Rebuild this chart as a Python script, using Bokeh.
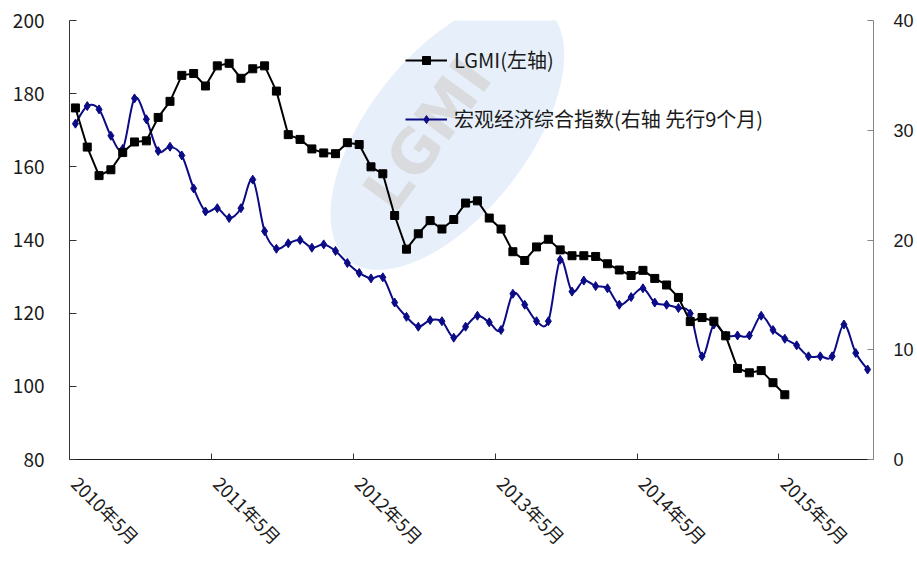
import math
from bokeh.plotting import figure
from bokeh.models import (Range1d, LinearAxis, FixedTicker, Legend, LegendItem,
                          ColumnDataSource)
from bokeh.core.properties import value
from bokeh.embed import file_html
from bokeh.resources import INLINE

# Monthly series starting 2010-05 (index 0) through 2015-12 (index 67)
n_months = 68
label_years = [2010, 2011, 2012, 2013, 2014, 2015]

# LGMI, left axis (2010-05 .. 2015-05)
lgmi = [176.1, 165.4, 157.6, 159.2, 163.9, 166.8, 167.1, 173.5, 177.9, 185.0,
        185.5, 182.1, 187.6, 188.3, 184.2, 186.8, 187.6, 180.7, 168.8, 167.5,
        164.9, 163.8, 163.6, 166.6, 166.1, 160.0, 158.1, 146.7, 137.5, 141.7,
        145.3, 143.0, 145.6, 150.1, 150.7, 146.0, 143.0, 136.8, 134.4, 138.1,
        140.2, 137.3, 135.7, 135.7, 135.5, 133.5, 131.8, 130.3, 131.7, 129.5,
        127.7, 124.3, 117.7, 118.8, 117.8, 113.8, 104.9, 103.7, 104.3, 101.0,
        97.7]

# Composite macro index, right axis, shifted 9 months ahead (2010-05 .. 2015-12)
macro = [30.6, 32.2, 31.9, 29.5, 28.3, 32.9, 31.0, 28.1, 28.5, 27.7,
         24.7, 22.6, 22.9, 22.0, 22.9, 25.5, 20.8, 19.2, 19.7, 20.0,
         19.3, 19.6, 19.0, 17.9, 17.0, 16.5, 16.6, 14.3, 13.0, 12.1,
         12.7, 12.6, 11.1, 12.1, 13.1, 12.5, 11.8, 15.1, 14.1, 12.6,
         12.6, 18.2, 15.3, 16.3, 15.8, 15.6, 14.1, 14.8, 15.6, 14.3,
         14.1, 13.8, 13.3, 9.4, 12.3, 11.3, 11.3, 11.3, 13.1, 11.8,
         11.0, 10.4, 9.4, 9.4, 9.4, 12.3, 9.7, 8.2]

left_ticks = [80, 100, 120, 140, 160, 180, 200]
right_ticks = [0, 10, 20, 30, 40]

CJK = "Noto Sans CJK SC"
BLUE = "#0b0b86"

p = figure(width=917, height=563,
           x_range=Range1d(-0.5, n_months - 0.5),
           y_range=Range1d(left_ticks[0], left_ticks[-1]),
           output_backend="svg", toolbar_location=None,
           min_border_left=69, min_border_right=44,
           min_border_top=20, min_border_bottom=104)
p.extra_y_ranges = {"right": Range1d(right_ticks[0], right_ticks[-1])}
p.outline_line_color = None
p.grid.visible = False
p.background_fill_color = "white"
p.border_fill_color = "white"

# faint logo watermark behind the series
xr, yr = p.x_range, p.y_range
wx = xr.start + 0.47 * (xr.end - xr.start)
wy = yr.start + 0.74 * (yr.end - yr.start)
tx = xr.start + 0.445 * (xr.end - xr.start)
p.ellipse(x=[wx], y=[wy], width=[320], height=[160], width_units="screen",
          height_units="screen", angle=math.radians(52),
          fill_color="#e3edf9", fill_alpha=0.85, line_color=None)
p.text(x=[tx], y=[wy], text=["LGMI"], angle=math.radians(54),
       text_font=value("DejaVu Sans"), text_font_style="bold",
       text_font_size="60px", text_color="#d4d4d4", text_alpha=0.75,
       text_align="center", text_baseline="middle")

x_lgmi = list(range(len(lgmi)))
x_macro = list(range(len(macro)))

# smoothed curve for the macro index (Catmull-Rom converted to cubic Bezier)
x0, y0, x1, y1, cx0, cy0, cx1, cy1 = [], [], [], [], [], [], [], []
for i in range(len(macro) - 1):
    xa, ya = x_macro[i], macro[i]
    xb, yb = x_macro[i + 1], macro[i + 1]
    xp, yp = (x_macro[i - 1], macro[i - 1]) if i > 0 else (xa, ya)
    xn, yn = (x_macro[i + 2], macro[i + 2]) if i + 2 < len(macro) else (xb, yb)
    k = 1.0 / 6.0
    x0.append(xa); y0.append(ya); x1.append(xb); y1.append(yb)
    cx0.append(xa + (xb - xp) * k); cy0.append(ya + (yb - yp) * k)
    cx1.append(xb - (xn - xa) * k); cy1.append(yb - (yn - ya) * k)
bez_src = ColumnDataSource(dict(x0=x0, y0=y0, x1=x1, y1=y1,
                                cx0=cx0, cy0=cy0, cx1=cx1, cy1=cy1))
macro_line = p.bezier(x0="x0", y0="y0", x1="x1", y1="y1", cx0="cx0", cy0="cy0",
                      cx1="cx1", cy1="cy1", source=bez_src, line_color=BLUE,
                      line_width=2, y_range_name="right")
macro_pts = p.scatter(x_macro, macro, marker="diamond", size=9, fill_color=BLUE,
                      line_color=BLUE, y_range_name="right")

lgmi_line = p.line(x_lgmi, lgmi, line_color="black", line_width=2)
lgmi_pts = p.scatter(x_lgmi, lgmi, marker="square", size=8, fill_color="black",
                     line_color="black")

# left axis
ya = p.yaxis[0]
ya.ticker = FixedTicker(ticks=left_ticks)
ya.axis_line_color = "#333333"
ya.major_tick_line_color = "#333333"
ya.major_tick_in = 7
ya.major_tick_out = 0
ya.minor_tick_line_color = None
ya.major_label_standoff = 25
ya.major_label_text_font = CJK
ya.major_label_text_font_size = "19px"
ya.major_label_text_color = "#1a1a1a"

# right axis
ra = LinearAxis(y_range_name="right", ticker=FixedTicker(ticks=right_ticks))
ra.axis_line_color = "#868686"
ra.major_tick_line_color = "#868686"
ra.major_tick_in = 6
ra.major_tick_out = 0
ra.minor_tick_line_color = None
ra.major_label_standoff = 20
ra.major_label_text_font = "Liberation Sans"
ra.major_label_text_font_size = "18px"
ra.major_label_text_color = "#1a1a1a"
p.add_layout(ra, "right")

# bottom axis: labels on month centres, tick marks on year boundaries
label_pos = [12 * k for k in range(len(label_years))]
boundary_ticks = [12 * k - 0.5 for k in range(1, len(label_years))]
xa_ = p.xaxis[0]
xa_.ticker = FixedTicker(ticks=label_pos, minor_ticks=boundary_ticks)
xa_.major_label_overrides = {pos: f"{yr}年5月" for pos, yr in zip(label_pos, label_years)}
xa_.major_label_orientation = -math.pi / 4
xa_.major_tick_line_color = None
xa_.minor_tick_line_color = "#333333"
xa_.minor_tick_in = 6
xa_.minor_tick_out = 0
xa_.axis_line_color = "#1a1a1a"
xa_.major_label_standoff = 14
xa_.major_label_text_font = CJK
xa_.major_label_text_font_size = "18px"
xa_.major_label_text_color = "#1a1a1a"

legend = Legend(items=[
    LegendItem(label="LGMI(左轴)", renderers=[lgmi_line, lgmi_pts]),
    LegendItem(label="宏观经济综合指数(右轴 先行9个月)", renderers=[macro_line, macro_pts]),
], location=(336, 326))
legend.background_fill_alpha = 0
legend.border_line_color = None
legend.padding = 0
legend.margin = 0
legend.spacing = 30
legend.glyph_width = 42
legend.glyph_height = 20
legend.label_height = 20
legend.label_standoff = 7
legend.label_text_font = CJK
legend.label_text_font_size = "20px"
legend.label_text_color = "#1a1a1a"
p.add_layout(legend, "center")

open("out.html", "w").write(file_html(p, INLINE))
